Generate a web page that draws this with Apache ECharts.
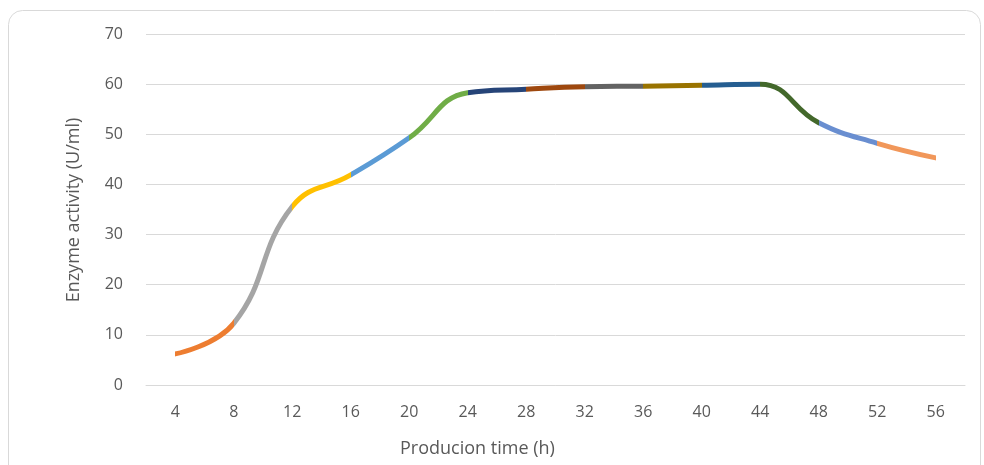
<!DOCTYPE html>
<html><head><meta charset="utf-8">
<script src="https://cdn.jsdelivr.net/npm/echarts@6/dist/echarts.min.js"></script>
<style>html,body{margin:0;padding:0;background:#fff}#c{width:984px;height:465px}</style>
</head><body><div id="c"></div>
<script>
const categories = ['4','8','12','16','20','24','28','32','36','40','44','48','52','56'];
const activity = [6.2, 12.3, 35.6, 41.9, 49.3, 58.3, 59.0, 59.5, 59.6, 59.8, 60.0, 52.3, 48.2, 45.3];
const segmentColors = ['#ED7D31','#A5A5A5','#FFC000','#5B9BD5','#70AD47','#264478','#9E480E','#636363','#997300','#255E91','#43682B','#698ED0','#F1975A'];
const yTicks = {min: 0, max: 70, interval: 10};
const xName = 'Producion time (h)';
const yName = 'Enzyme activity (U/ml)';

const pieces = segmentColors.map((c, i) => ({gt: i, lte: i + 1, color: c}));
pieces[0] = {gte: 0, lte: 1, color: segmentColors[0]};
const font = 'Open Sans';
const chart = echarts.init(document.getElementById('c'));
chart.setOption({
  animation: false,
  grid: {left: 146, right: 19, top: 34, bottom: 80},
  graphic: [
    {type: 'rect', shape: {x: 8.5, y: 10.5, width: 972, height: 480, r: 14}, style: {fill: 'none', stroke: '#D9D9D9', lineWidth: 1}, z: -1},
    {type: 'text', left: 400, top: 440, style: {text: xName, font: '18px "Open Sans"', fill: '#595959'}},
    {type: 'text', x: 74, y: 210, rotation: Math.PI/2, style: {text: yName, font: '18px "Open Sans"', fill: '#595959', align: 'center', verticalAlign: 'middle'}}
  ],
  visualMap: {show: false, type: 'piecewise', dimension: 0, seriesIndex: 0, pieces: pieces},
  xAxis: {
    type: 'category', data: categories, boundaryGap: true,
    axisLine: {lineStyle: {color: '#D9D9D9', width: 1}},
    axisTick: {show: false},
    axisLabel: {color: '#595959', fontSize: 16, fontFamily: font, margin: 19}
  },
  yAxis: {
    type: 'value', min: yTicks.min, max: yTicks.max, interval: yTicks.interval,
    axisLine: {show: false}, axisTick: {show: false},
    axisLabel: {color: '#595959', fontSize: 16, fontFamily: font, margin: 23},
    splitLine: {lineStyle: {color: '#D9D9D9', width: 1}}
  },
  series: [{
    type: 'line', data: activity, smooth: 0.45, showSymbol: false, symbol: 'none',
    lineStyle: {width: 5, cap: 'round', join: 'round'}
  }]
});
</script></body></html>
